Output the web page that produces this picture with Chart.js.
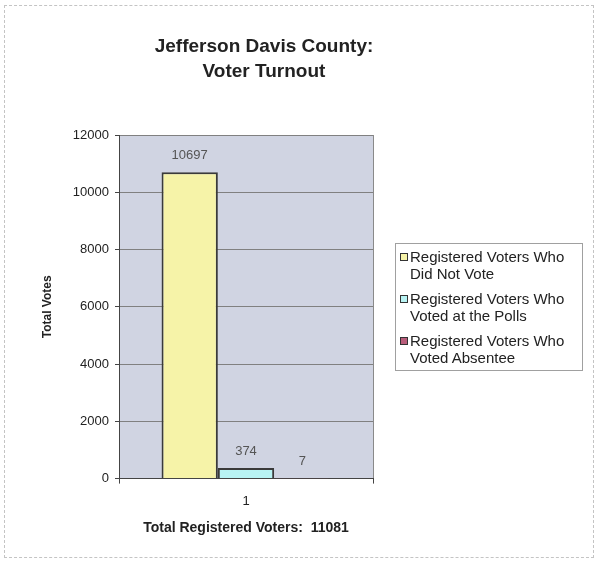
<!DOCTYPE html>
<html>
<head>
<meta charset="utf-8">
<script src="https://cdn.jsdelivr.net/npm/chart.js@4.4.1/dist/chart.umd.min.js"></script>
<style>
  html, body { margin: 0; padding: 0; background: #fff; }
  #wrap { position: relative; width: 597px; height: 565px; font-family: 'Liberation Sans', Arial, sans-serif; }
  #frame { position: absolute; left: 4px; top: 5px; width: 588px; height: 551px; border: 1px dashed #c4c4c4; pointer-events: none; }
  #legend { position: absolute; left: 395px; top: 243px; width: 188px; height: 128px; border: 1px solid #a0a0a0; box-sizing: border-box; padding: 4px 0 0 14px; }
  .item { position: relative; font-size: 15px; line-height: 17px; color: #222; margin-bottom: 8px; width: 164px; }
  .item .sw { position: absolute; left: -10px; top: 5px; width: 6px; height: 6px; border: 1.5px solid #333; }
</style>
</head>
<body>
<div id="wrap">
  <canvas id="turnoutChart" width="597" height="565"></canvas>
  <div id="legend"></div>
  <div id="frame"></div>
</div>
<script>
var categories = ['1'];
var seriesNames = [
  'Registered Voters Who Did Not Vote',
  'Registered Voters Who Voted at the Polls',
  'Registered Voters Who Voted Absentee'
];
var didNotVote = [10697];
var votedAtPolls = [374];
var votedAbsentee = [7];
var seriesColors = ['#f6f3a8', '#b8f3f3', '#b85c7a'];
var titleLines = ['Jefferson Davis County:', 'Voter Turnout'];
var totalRegistered = 11081;
var yMax = 12000;
var yStep = 2000;

var FONT = "'Liberation Sans', Arial, sans-serif";

// plot area fill behind grid
var plotBg = {
  id: 'plotBg',
  beforeDraw: function(chart) {
    var a = chart.chartArea, ctx = chart.ctx;
    ctx.save();
    ctx.fillStyle = '#d0d4e2';
    ctx.fillRect(a.left, a.top, a.right - a.left, a.bottom - a.top);
    ctx.restore();
  }
};

var headline = {
  id: 'headline',
  afterDraw: function(chart) {
    var ctx = chart.ctx;
    ctx.save();
    ctx.font = 'bold 19px ' + FONT;
    ctx.fillStyle = '#222';
    ctx.textAlign = 'center';
    ctx.textBaseline = 'alphabetic';
    ctx.fillText(titleLines[0], 264, 52);
    ctx.fillText(titleLines[1], 264, 77);
    ctx.restore();
  }
};

var valueLabels = {
  id: 'valueLabels',
  afterDatasetsDraw: function(chart) {
    var ctx = chart.ctx;
    ctx.save();
    ctx.font = '13px ' + FONT;
    ctx.fillStyle = '#555';
    ctx.textAlign = 'center';
    ctx.textBaseline = 'bottom';
    chart.data.datasets.forEach(function(ds, i) {
      chart.getDatasetMeta(i).data.forEach(function(bar, j) {
        ctx.fillText(String(ds.data[j]), bar.x, bar.y - 10);
      });
    });
    ctx.restore();
  }
};

var datasets = [didNotVote, votedAtPolls, votedAbsentee].map(function(vals, i) {
  return {
    label: seriesNames[i],
    data: vals,
    backgroundColor: seriesColors[i],
    borderColor: '#3a3a3a',
    borderWidth: 2,
    borderSkipped: 'bottom',
    categoryPercentage: 0.665,
    barPercentage: 1.0
  };
});

var chart = new Chart(document.getElementById('turnoutChart'), {
  type: 'bar',
  data: { labels: categories, datasets: datasets },
  plugins: [plotBg, headline, valueLabels],
  options: {
    responsive: false,
    animation: false,
    layout: { padding: { top: 135, left: 30, right: 224, bottom: 28 } },
    plugins: { legend: { display: false }, tooltip: { enabled: false } },
    scales: {
      x: {
        grid: { offset: true, color: '#8a8a8a', tickColor: '#444', tickLength: 5 },
        border: { color: '#444', width: 1 },
        ticks: { color: '#222', font: { family: FONT, size: 13 }, padding: 10 },
        title: { display: true, text: 'Total Registered Voters:  ' + totalRegistered, color: '#222',
                 font: { family: FONT, size: 14, weight: 'bold' }, padding: { top: 1, bottom: 0 } }
      },
      y: {
        min: 0, max: yMax,
        afterFit: function(scale) { scale.width = 89; },
        grid: { color: '#808080', tickColor: '#444', tickLength: 4 },
        border: { color: '#444', width: 1 },
        ticks: { stepSize: yStep, color: '#222', font: { family: FONT, size: 13 }, padding: 6,
                 callback: function(v) { return String(v); } },
        title: { display: true, text: 'Total Votes', color: '#222',
                 font: { family: FONT, size: 12, weight: 'bold' }, padding: { top: 10, bottom: 0 } }
      }
    }
  }
});

// legend box built from the chart's datasets
var legendEl = document.getElementById('legend');
chart.data.datasets.forEach(function(ds) {
  var item = document.createElement('div');
  item.className = 'item';
  var sw = document.createElement('span');
  sw.className = 'sw';
  sw.style.background = ds.backgroundColor;
  item.appendChild(sw);
  item.appendChild(document.createTextNode(ds.label));
  legendEl.appendChild(item);
});
</script>
</body>
</html>
